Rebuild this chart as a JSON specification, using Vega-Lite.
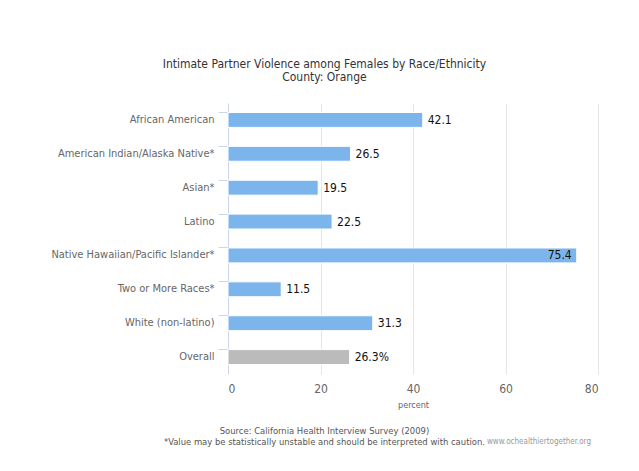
{
  "$schema": "https://vega.github.io/schema/vega-lite/v6.json",
  "background": "#ffffff",
  "padding": {"left": 50, "top": 57, "right": 39, "bottom": 10},
  "config": {
    "font": "DejaVu Sans Condensed",
    "view": {"stroke": null}
  },
  "title": {
    "text": ["Intimate Partner Violence among Females by Race/Ethnicity", "County: Orange"],
    "fontSize": 12,
    "fontWeight": "normal",
    "color": "#333333",
    "lineHeight": 13.5,
    "anchor": "middle",
    "frame": "bounds",
    "offset": 19
  },
  "vconcat": [
    {
      "title": {
        "text": "www.ochealthiertogether.org",
        "orient": "bottom",
        "anchor": "end",
        "frame": "bounds",
        "dx": -7,
        "offset": -8,
        "fontSize": 8,
        "fontWeight": "normal",
        "color": "#999999"
      },
      "vconcat": [
        {
          "width": 370,
          "height": 271,
          "title": {
            "text": ["Source: California Health Interview Survey (2009)", "*Value may be statistically unstable and should be interpreted with caution."],
            "orient": "bottom",
            "anchor": "middle",
            "frame": "bounds",
            "fontSize": 9.4,
            "fontWeight": "normal",
            "color": "#555555",
            "lineHeight": 11,
            "offset": 18
          },
          "data": {
            "values": [
              {"category": "African American", "value": 42.1, "label": "42.1"},
              {"category": "American Indian/Alaska Native*", "value": 26.5, "label": "26.5"},
              {"category": "Asian*", "value": 19.5, "label": "19.5"},
              {"category": "Latino", "value": 22.5, "label": "22.5"},
              {"category": "Native Hawaiian/Pacific Islander*", "value": 75.4, "label": "75.4"},
              {"category": "Two or More Races*", "value": 11.5, "label": "11.5"},
              {"category": "White (non-latino)", "value": 31.3, "label": "31.3"},
              {"category": "Overall", "value": 26.3, "label": "26.3%"}
            ]
          },
          "encoding": {
            "y": {
              "field": "category",
              "type": "nominal",
              "sort": null,
              "scale": {"paddingInner": 0.56, "paddingOuter": 0.28},
              "axis": {
                "title": null,
                "bandPosition": 0,
                "grid": false,
                "domainColor": "#ccd6eb",
                "tickColor": "#ccd6eb",
                "tickSize": 10,
                "labelPadding": 4,
                "labelFontSize": 11,
                "labelColor": "#666666",
                "labelLimit": 0
              }
            },
            "x": {
              "field": "value",
              "type": "quantitative",
              "scale": {"domain": [0, 80], "nice": false},
              "axis": {
                "values": [0, 20, 40, 60, 80],
                "grid": true,
                "gridColor": "#e6e6e6",
                "domain": false,
                "ticks": false,
                "labelPadding": 9,
                "labelFontSize": 12,
                "labelColor": "#666666",
                "title": "percent",
                "titleFontSize": 9,
                "titleFontWeight": "normal",
                "titleColor": "#666666",
                "titlePadding": 6
              }
            }
          },
          "layer": [
            {
              "mark": {"type": "bar", "stroke": "#ffffff", "strokeWidth": 1},
              "encoding": {
                "color": {
                  "condition": {"test": "datum.category === 'Overall'", "value": "#bbbbbb"},
                  "value": "#7cb5ec"
                }
              }
            },
            {
              "transform": [{"filter": "datum.value < 70"}],
              "mark": {"type": "text", "align": "left", "dx": 5, "fontSize": 12, "color": "#111111"},
              "encoding": {"text": {"field": "label"}}
            },
            {
              "transform": [{"filter": "datum.value >= 70"}],
              "mark": {"type": "text", "align": "right", "dx": -5, "fontSize": 12, "color": "#111111"},
              "encoding": {"text": {"field": "label"}}
            }
          ]
        }
      ]
    }
  ]
}
